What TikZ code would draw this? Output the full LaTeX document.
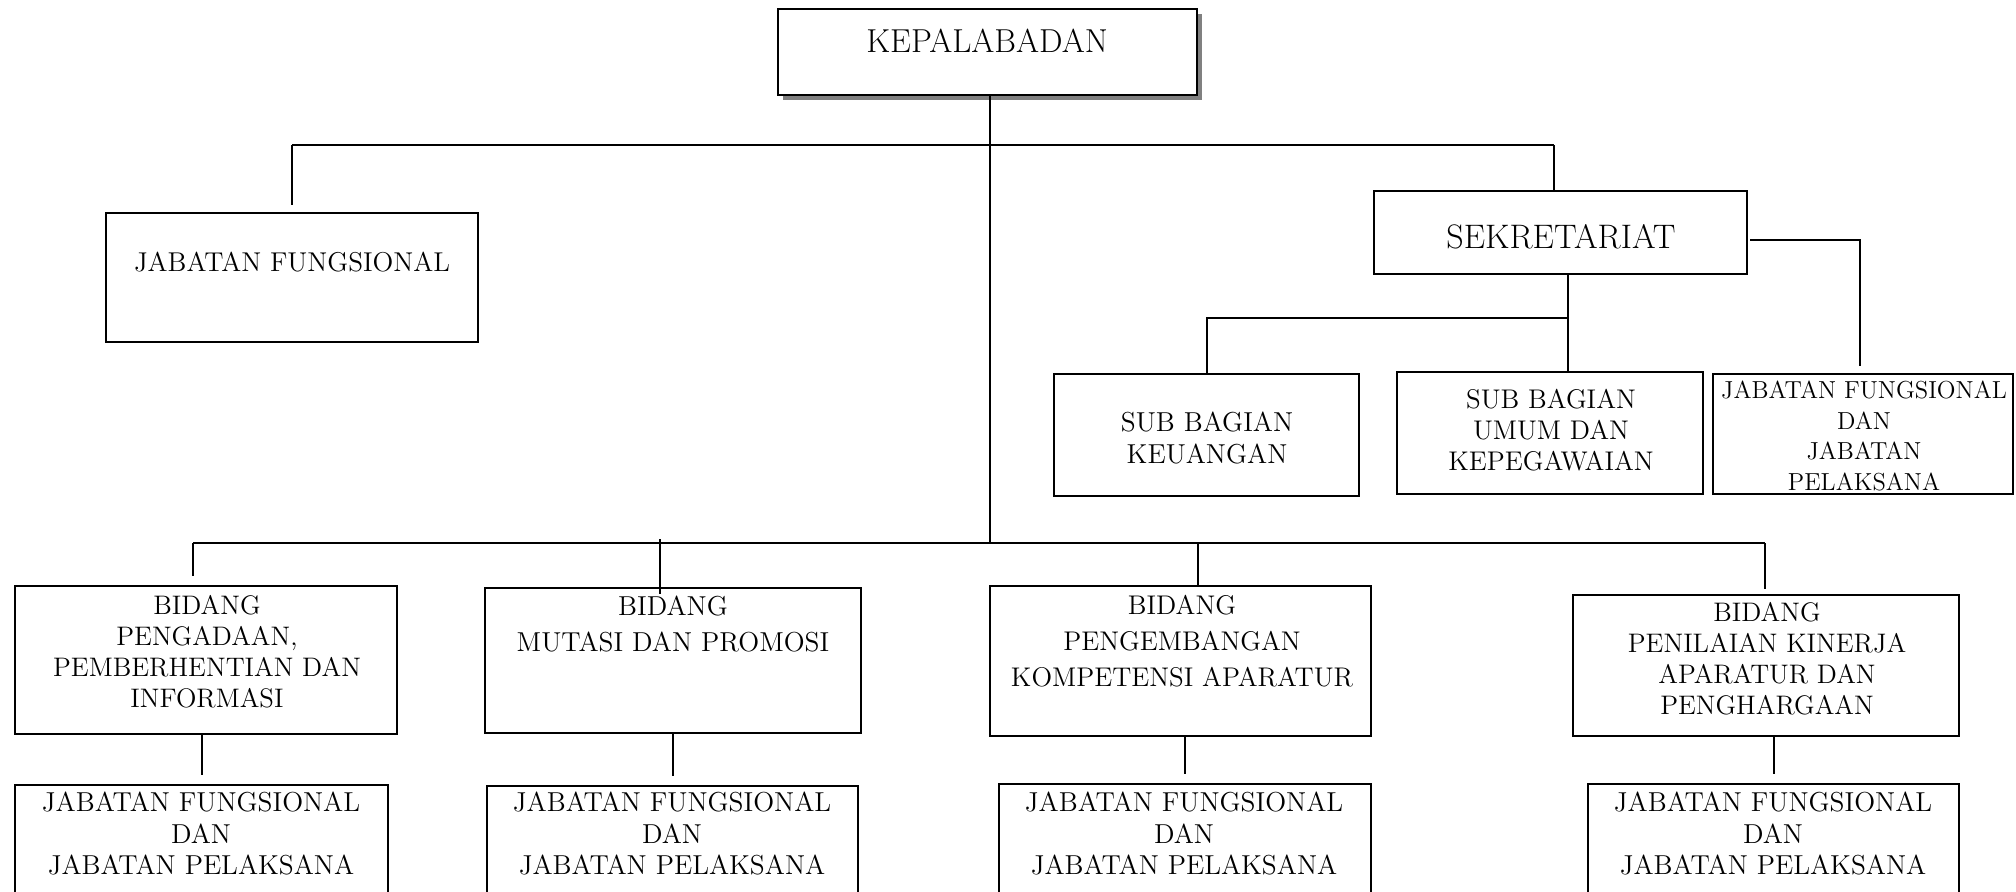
\documentclass[tikz,border=0pt]{standalone}
\usetikzlibrary{calc,fit}
\definecolor{shadowgray}{RGB}{128,128,128}
\begin{document}
\begin{tikzpicture}[x=0.5pt,y=-0.5pt,
  frame/.style={draw, line width=1.2pt, inner sep=0pt, rectangle},
  conn/.style={line width=1pt},
  txt/.style={align=center, inner sep=0pt, font=\fontsize{13.4}{15.5}\selectfont}]
\path[use as bounding box] (0,0) rectangle (2016,891);
\clip (0,0) rectangle (2016,891);

% top level
\fill[shadowgray] (783,14) rectangle (1202,100);
\node[frame, fill=white, fit={(778,9) (1197,95)}] (kb) {};
\node[txt, font=\fontsize{16.6}{18}\selectfont] (kbt) at (987,41) {KEPALABADAN};

\node[frame, fit={(106,213) (478,342)}] (jf) {};
\node[txt, font=\fontsize{13.6}{16}\selectfont] (jft) at (292,262) {JABATAN FUNGSIONAL};

\node[frame, fit={(1374,191) (1747,274)}] (sek) {};
\node[txt, font=\fontsize{17}{18}\selectfont] (sekt) at (1561,237) {SEKRETARIAT};

\node[frame, fit={(1054,374) (1359,496)}] (keu) {};
\node[txt, font=\fontsize{13.7}{16}\selectfont] (keut) at (1207,438) {SUB BAGIAN\\KEUANGAN};

\node[frame, fit={(1397,372) (1703,494)}] (umum) {};
\node[txt, font=\fontsize{13.5}{15.5}\selectfont] (umumt) at (1551,430) {SUB BAGIAN\\UMUM DAN\\KEPEGAWAIAN};

\node[frame, fit={(1713,374) (2013,494)}] (jfs) {};
\node[txt, font=\fontsize{12.3}{15.3}\selectfont] (jfst) at (1864,436) {JABATAN FUNGSIONAL\\DAN\\JABATAN\\PELAKSANA};

% bidang row
\node[frame, fit={(15,586) (397,734)}] (b1) {};
\node[txt] (b1t) at (207,652) {BIDANG\\PENGADAAN,\\PEMBERHENTIAN DAN\\INFORMASI};

\node[frame, fit={(485,588) (861,733)}] (b2) {};
\node[txt, font=\fontsize{13.7}{18}\selectfont] (b2t) at (673,624) {BIDANG\\MUTASI DAN PROMOSI};

\node[frame, fit={(990,586) (1371,736)}] (b3) {};
\node[txt, font=\fontsize{13.5}{18}\selectfont] (b3t) at (1182,641) {BIDANG\\PENGEMBANGAN\\KOMPETENSI APARATUR};

\node[frame, fit={(1573,595) (1959,736)}] (b4) {};
\node[txt] (b4t) at (1767,659) {BIDANG\\PENILAIAN KINERJA\\APARATUR DAN\\PENGHARGAAN};

% jabatan row
\tikzset{jtxt/.style={txt, font=\fontsize{13.7}{15.75}\selectfont}}
\node[frame, fit={(15,785) (388,905)}] (j1) {};
\node[jtxt] (j1t) at (201,833.5) {JABATAN FUNGSIONAL\\DAN\\JABATAN PELAKSANA};
\node[frame, fit={(487,786) (858,905)}] (j2) {};
\node[jtxt] (j2t) at (672,833.5) {JABATAN FUNGSIONAL\\DAN\\JABATAN PELAKSANA};
\node[frame, fit={(999,784) (1371,905)}] (j3) {};
\node[jtxt] (j3t) at (1184,833.5) {JABATAN FUNGSIONAL\\DAN\\JABATAN PELAKSANA};
\node[frame, fit={(1588,784) (1959,905)}] (j4) {};
\node[jtxt] (j4t) at (1773,833.5) {JABATAN FUNGSIONAL\\DAN\\JABATAN PELAKSANA};

% connectors
\coordinate (ul) at (292,145);
\coordinate (ur) at (1554,145);
\coordinate (tb) at (990,543);
\coordinate (bl) at (193,543);
\coordinate (br) at (1765,543);
\coordinate (sj) at (1568,318);
\coordinate (b2c) at (660,539);
\coordinate (b3c) at (1198,543);

\draw[conn] (kb.south -| tb) -- (tb);
\draw[conn] (ul) -- (ur);
\draw[conn] (ul) -- ($(jf.north)+(0,-7)$);
\draw[conn] (ur) -- (sek.north -| ur);
\draw[conn] ($(sek.east)+(2,7)$) -| ($(jfs.north)+(-3,-7)$);
\draw[conn] (sek.south -| sj) -- (umum.north -| sj);
\draw[conn] (sj) -| (keu.north);

\draw[conn] (bl) -- (br);
\draw[conn] (bl) -- ($(b1.north -| bl)+(0,-9)$);
\draw[conn] (b2c) -- ($(b2.north -| b2c)+(0,7)$);
\draw[conn] (b3c) -- (b3.north -| b3c);
\draw[conn] (br) -- ($(b4.north -| br)+(0,-5)$);

\draw[conn] (b1.south -| j1.north) -- ($(j1.north)+(0,-9)$);
\draw[conn] (b2.south -| j2.north) -- ($(j2.north)+(0,-9)$);
\draw[conn] (b3.south -| j3.north) -- ($(j3.north)+(0,-9)$);
\draw[conn] (b4.south -| j4.north) -- ($(j4.north)+(0,-9)$);
\end{tikzpicture}
\end{document}
